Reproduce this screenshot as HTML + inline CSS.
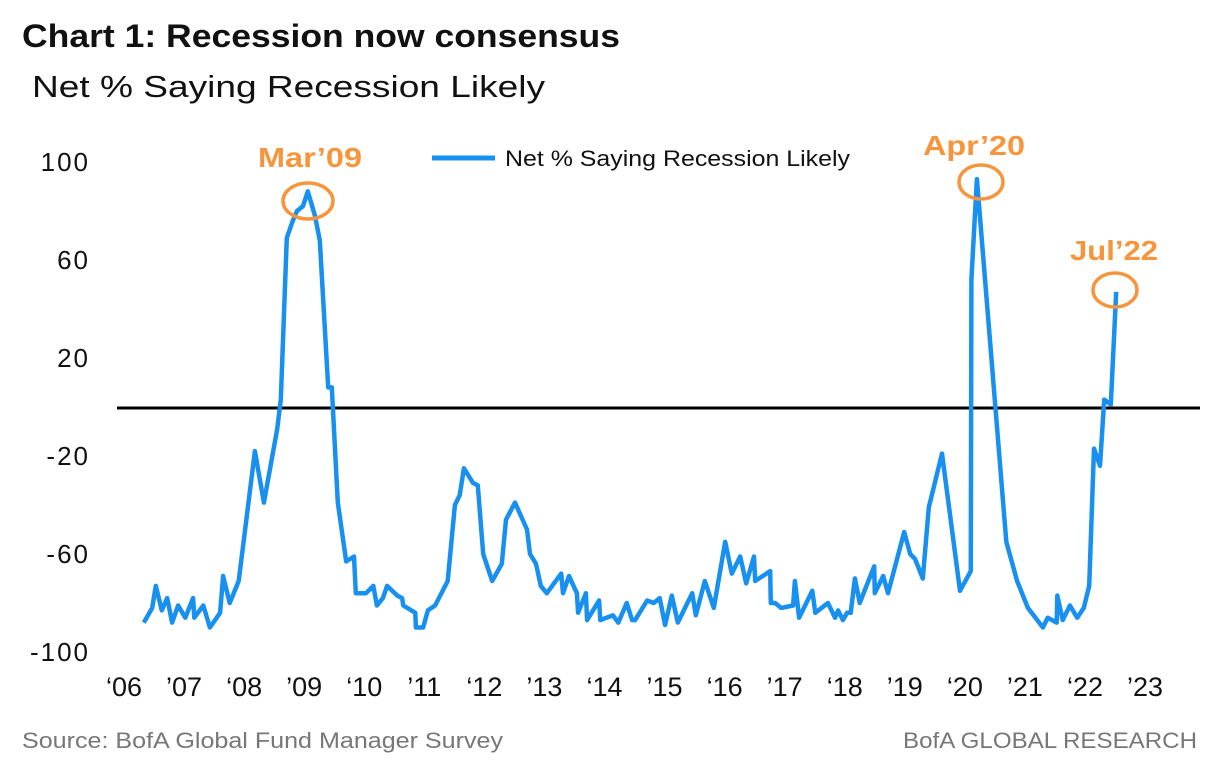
<!DOCTYPE html>
<html><head><meta charset="utf-8"><style>
body{margin:0;background:#fff;width:1218px;height:766px;overflow:hidden;font-family:"Liberation Sans",sans-serif}
</style></head><body>
<svg id="chart" width="1218" height="766" xmlns="http://www.w3.org/2000/svg" font-family="Liberation Sans, sans-serif">
<text x="22" y="47" font-size="32" font-weight="bold" fill="#111" textLength="598" lengthAdjust="spacingAndGlyphs">Chart 1: Recession now consensus</text>
<text x="32" y="97" font-size="31" fill="#111" textLength="513" lengthAdjust="spacingAndGlyphs">Net % Saying Recession Likely</text>
<g id="yticks"></g><g id="xticks"></g>
<line x1="117" x2="1200" y1="408" y2="408" stroke="#000" stroke-width="3"/>
<path id="series" fill="none" stroke="#1890f0" stroke-width="4.5" stroke-linejoin="round"/>
<g>
<line x1="432" x2="495" y1="158" y2="158" stroke="#1890f0" stroke-width="5"/>
<text x="505" y="166" font-size="22" fill="#111" textLength="345" lengthAdjust="spacingAndGlyphs">Net % Saying Recession Likely</text>
</g>
<g fill="none" stroke="#f7953d" stroke-width="3.5">
<ellipse cx="308" cy="201" rx="25" ry="18"/>
<ellipse cx="981" cy="182" rx="22" ry="17"/>
<ellipse cx="1115" cy="290" rx="22" ry="17"/>
</g>
<g font-size="28" font-weight="bold" fill="#f7953d">
<text x="258" y="167" textLength="104" lengthAdjust="spacingAndGlyphs">Mar’09</text>
<text x="923" y="155" textLength="102" lengthAdjust="spacingAndGlyphs">Apr’20</text>
<text x="1070" y="260" textLength="88" lengthAdjust="spacingAndGlyphs">Jul’22</text>
</g>
<text x="22" y="748" font-size="22" fill="#777" textLength="481" lengthAdjust="spacingAndGlyphs">Source: BofA Global Fund Manager Survey</text>
<text x="903" y="748" font-size="22" fill="#777" textLength="294" lengthAdjust="spacingAndGlyphs">BofA GLOBAL RESEARCH</text>
</svg>
<script>
const dates=[2006.38,2006.52,2006.58,2006.68,2006.77,2006.85,2006.95,2007.07,2007.20,2007.22,2007.37,2007.48,2007.65,2007.70,2007.81,2007.96,2008.23,2008.38,2008.60,2008.66,2008.76,2008.86,2008.93,2009.03,2009.11,2009.23,2009.31,2009.45,2009.51,2009.61,2009.75,2009.88,2009.91,2010.08,2010.20,2010.26,2010.36,2010.43,2010.60,2010.68,2010.70,2010.90,2010.91,2011.03,2011.11,2011.23,2011.44,2011.56,2011.64,2011.71,2011.86,2011.94,2012.03,2012.18,2012.34,2012.41,2012.56,2012.76,2012.81,2012.91,2012.99,2013.09,2013.33,2013.36,2013.46,2013.59,2013.61,2013.74,2013.76,2013.96,2013.98,2014.19,2014.28,2014.42,2014.51,2014.56,2014.76,2014.87,2014.97,2015.06,2015.17,2015.27,2015.51,2015.57,2015.72,2015.87,2016.06,2016.17,2016.31,2016.41,2016.54,2016.56,2016.81,2016.82,2016.89,2016.99,2017.19,2017.22,2017.29,2017.51,2017.56,2017.77,2017.89,2017.94,2018.02,2018.09,2018.15,2018.22,2018.30,2018.54,2018.55,2018.69,2018.77,2019.04,2019.14,2019.22,2019.35,2019.45,2019.67,2019.97,2020.15,2020.16,2020.25,2020.74,2020.92,2021.10,2021.35,2021.43,2021.58,2021.59,2021.68,2021.80,2021.92,2022.03,2022.12,2022.20,2022.30,2022.37,2022.48,2022.57];
const values=[-88,-82,-73,-83,-78,-88,-81,-86,-78,-86,-81,-90,-84,-69,-80,-71,-18,-39,-9,3,69,76,80,82,88,78,68,8,8,-39,-63,-61,-76,-76,-73,-81,-78,-73,-77,-78,-81,-84,-90,-90,-83,-81,-71,-40,-36,-25,-31,-32,-60,-71,-64,-46,-39,-50,-60,-64,-73,-76,-68,-76,-69,-76,-84,-76,-87,-79,-87,-85,-88,-80,-87,-87,-79,-80,-78,-89,-77,-88,-76,-85,-71,-82,-55,-68,-61,-72,-61,-71,-67,-80,-80,-82,-81,-71,-86,-75,-84,-80,-86,-83,-87,-84,-84,-70,-80,-65,-76,-69,-76,-51,-60,-62,-70,-41,-19,-75,-67,52,93,-55,-71,-82,-90,-86,-88,-77,-87,-81,-86,-82,-73,-17,-24,3,1,47];
const yTicks=[100,60,20,-20,-60,-100];
const yTickLabels=["100","60","20","-20","-60","-100"];
const xTickYears=[2006,2007,2008,2009,2010,2011,2012,2013,2014,2015,2016,2017,2018,2019,2020,2021,2022,2023];
const xTickLabels=["‘06","’07","‘08","’09","‘10","’11","‘12","’13","‘14","’15","‘16","’17","‘18","’19","‘20","’21","‘22","’23"];
const NS="http://www.w3.org/2000/svg";
function x(t){return 121+(t-2006)*60.06;}
function y(v){return 407-v*2.45;}
let d="";
for(let i=0;i<dates.length;i++){d+=(i?"L":"M")+x(dates[i]).toFixed(1)+","+y(values[i]).toFixed(1);}
document.getElementById("series").setAttribute("d",d);
const yg=document.getElementById("yticks");
yTicks.forEach((v,i)=>{const t=document.createElementNS(NS,"text");


t.setAttribute("x",90);t.setAttribute("y",y(v)+9);t.setAttribute("font-size","26");t.setAttribute("text-anchor","end");t.setAttribute("fill","#111");t.setAttribute("letter-spacing","2");t.textContent=yTickLabels[i];yg.appendChild(t);});
const xg=document.getElementById("xticks");
xTickYears.forEach((yr,i)=>{const t=document.createElementNS(NS,"text");


t.setAttribute("x",x(yr)+3);t.setAttribute("y",696);t.setAttribute("font-size","27");t.setAttribute("text-anchor","middle");t.setAttribute("fill","#111");t.textContent=xTickLabels[i];xg.appendChild(t);});
</script>
</body></html>
